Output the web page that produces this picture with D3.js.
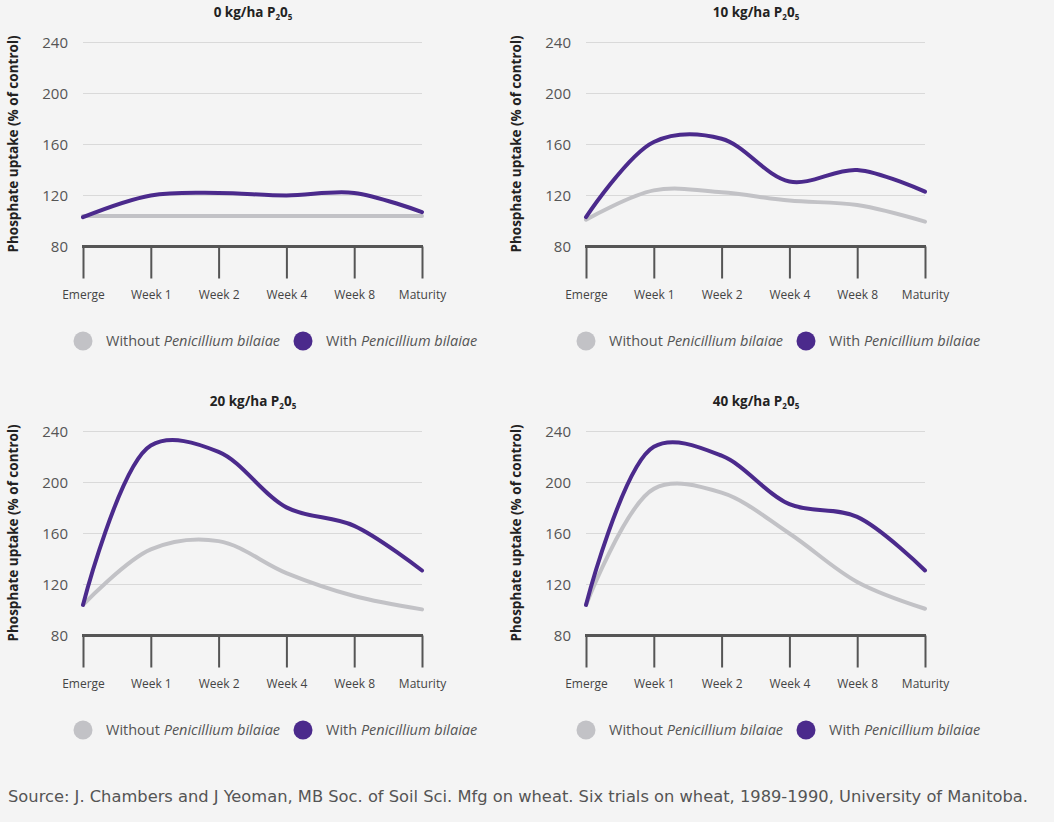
<!DOCTYPE html>
<html><head><meta charset="utf-8">
<script src="https://cdn.jsdelivr.net/npm/d3@7"></script>
<style>
html,body{margin:0;padding:0;background:#f4f4f4;}
svg{display:block;}
</style></head>
<body>
<svg id="c" width="1054" height="822"></svg>
<script>
const stages = ["Emerge","Week 1","Week 2","Week 4","Week 8","Maturity"];
const yTicks = [80,120,160,200,240];
const rates = ["0","10","20","40"];
const without0  = [104,104,104,104,104,104];
const with0     = [103,120,122,120,122,107];
const without10 = [101,124,122.5,116,112.5,99.5];
const with10    = [103,162,164.5,131,140,123];
const without20 = [104,147.5,154,129,111,100.5];
const with20    = [104,229,224,180.5,166,131];
const without40 = [104,195,192,160,122,101];
const with40    = [104,228,221,183,173,131];
const panelsWithout = [without0,without10,without20,without40];
const panelsWith = [with0,with10,with20,with40];

const purple = "#4b2a8c", grey = "#c2c2c6";
const svg = d3.select("#c");
svg.append("rect").attr("width",1054).attr("height",822).attr("fill","#f4f4f4");
const font = "'Open Sans', Lato, sans-serif";

const origins = [[0,0],[503,0],[0,389],[503,389]];

rates.forEach((r,i)=>{
  const [ox,oy] = origins[i];
  const g = svg.append("g").attr("transform",`translate(${ox},${oy})`);
  const x = d3.scalePoint().domain(stages).range([83,422]);
  const y = d3.scaleLinear().domain([80,240]).range([246.5,42.5]);

  // title
  const t = g.append("text").attr("x",253).attr("y",17).attr("text-anchor","middle")
    .attr("font-family",font).attr("font-weight","bold").attr("font-size",13.5).attr("fill","#222");
  t.append("tspan").text(r+" kg/ha P");
  t.append("tspan").attr("font-size",8).attr("dy",3).text("2");
  t.append("tspan").attr("dy",-3).text("0");
  t.append("tspan").attr("font-size",8).attr("dy",3).text("5");

  // gridlines
  g.append("g").selectAll("line").data(yTicks.filter(v=>v>80)).join("line")
    .attr("x1",83).attr("x2",422).attr("y1",d=>y(d)).attr("y2",d=>y(d))
    .attr("stroke","#d9d9d9").attr("stroke-width",1.2);

  // y tick labels
  g.append("g").selectAll("text").data(yTicks).join("text")
    .attr("x",68).attr("y",d=>y(d)).attr("dy","0.35em").attr("text-anchor","end")
    .attr("font-family",font).attr("font-size",15).attr("fill","#555").text(d=>d);

  // y title
  g.append("text").attr("transform",`translate(18,144) rotate(-90)`).attr("text-anchor","middle")
    .attr("font-family",font).attr("font-weight","bold").attr("font-size",13.5).attr("fill","#222")
    .text("Phosphate uptake (% of control)");

  // x axis
  const xa = g.append("g").attr("transform",`translate(0,${y(80)})`)
    .call(d3.axisBottom(x).tickSize(32).tickPadding(12));
  xa.select(".domain").attr("d",`M${x.range()[0]-1},0H${x.range()[1]+1}`).attr("stroke","#555").attr("stroke-width",3);
  xa.selectAll(".tick line").attr("stroke","#555").attr("stroke-width",2);
  xa.selectAll(".tick text").attr("font-family",font).attr("font-size",12).attr("fill","#444");

  const line = d3.line().x((d,j)=>x(stages[j])).y(d=>y(d)).curve(d3.curveCatmullRom.alpha(0.5));
  g.append("path").datum(panelsWithout[i]).attr("d",line).attr("fill","none")
    .attr("stroke",grey).attr("stroke-width",4).attr("stroke-linecap","round");
  g.append("path").datum(panelsWith[i]).attr("d",line).attr("fill","none")
    .attr("stroke",purple).attr("stroke-width",4).attr("stroke-linecap","round");

  // legend
  const lg = g.append("g").attr("transform","translate(0,341)");
  const items = [{c:grey,a:"Without ",x:83},{c:purple,a:"With ",x:303}];
  items.forEach(it=>{
    lg.append("circle").attr("cx",it.x).attr("cy",0).attr("r",9.5).attr("fill",it.c);
    const tt = lg.append("text").attr("x",it.x+23).attr("y",0).attr("dy","0.35em")
      .attr("font-family",font).attr("font-size",14.5).attr("fill","#555");
    tt.append("tspan").text(it.a);
    tt.append("tspan").attr("font-style","italic").text("Penicillium bilaiae");
  });
});

svg.append("text").attr("x",8).attr("y",802)
  .attr("font-family","'DejaVu Sans Condensed', 'Liberation Sans Narrow', sans-serif")
  .attr("font-size",15).attr("fill","#555")
  .attr("textLength",1020).attr("lengthAdjust","spacingAndGlyphs")
  .text("Source: J. Chambers and J Yeoman, MB Soc. of Soil Sci. Mfg on wheat. Six trials on wheat, 1989-1990, University of Manitoba.");
</script>
</body></html>
